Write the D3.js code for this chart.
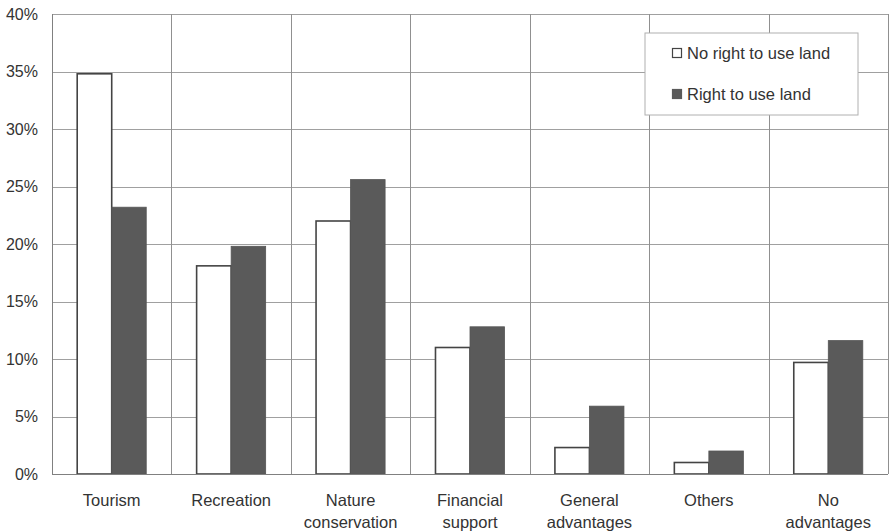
<!DOCTYPE html>
<html>
<head>
<meta charset="utf-8">
<script src="https://cdn.jsdelivr.net/npm/d3@7"></script>
<style>
  html, body { margin: 0; padding: 0; background: #fff; }
  svg { display: block; font-family: "Liberation Sans", Arial, sans-serif; }
</style>
</head>
<body>
<svg id="chart" width="892" height="532"></svg>
<script>
// Perceived advantages, by land-use right
const categories = [
  ["Tourism"],
  ["Recreation"],
  ["Nature", "conservation"],
  ["Financial", "support"],
  ["General", "advantages"],
  ["Others"],
  ["No", "advantages"]
];
const seriesNames = ["No right to use land", "Right to use land"];
const noRight  = [34.8, 18.1, 22.0, 11.0, 2.3, 1.0, 9.7];
const withRight = [23.2, 19.8, 25.6, 12.8, 5.9, 2.0, 11.6];
const yTicks = [0, 5, 10, 15, 20, 25, 30, 35, 40];

const svg = d3.select("#chart");
const margin = { top: 14, right: 4, bottom: 58, left: 52 };
const W = 892, H = 532;
const innerW = W - margin.left - margin.right;
const innerH = H - margin.top - margin.bottom;

const g = svg.append("g").attr("transform", `translate(${margin.left},${margin.top})`);

const x0 = d3.scaleBand()
  .domain(d3.range(categories.length))
  .range([0, innerW])
  .paddingInner(0)
  .paddingOuter(0);

const x1 = d3.scaleBand()
  .domain([0, 1])
  .range([0, x0.bandwidth()])
  .paddingInner(0)
  .paddingOuter(0.73);

const y = d3.scaleLinear().domain([0, 40]).range([innerH, 0]);

const gridColor = "#a0a0a0";

// horizontal gridlines
g.append("g").selectAll("line")
  .data(yTicks)
  .join("line")
  .attr("x1", 0).attr("x2", innerW)
  .attr("y1", d => Math.round(y(d)) + 0.5)
  .attr("y2", d => Math.round(y(d)) + 0.5)
  .attr("stroke", gridColor)
  .attr("stroke-width", 1);

// vertical gridlines at category boundaries
g.append("g").selectAll("line")
  .data(d3.range(categories.length + 1))
  .join("line")
  .attr("x1", i => Math.round(i === categories.length ? innerW : x0(i)) + 0.5)
  .attr("x2", i => Math.round(i === categories.length ? innerW : x0(i)) + 0.5)
  .attr("y1", 0).attr("y2", innerH)
  .attr("stroke", "#909090")
  .attr("stroke-width", 1);

// left axis line
g.append("line")
  .attr("x1", 0.5).attr("x2", 0.5)
  .attr("y1", 0).attr("y2", innerH)
  .attr("stroke", "#808080");

// y axis labels
const yAxis = d3.axisLeft(y).tickValues(yTicks).tickFormat(d => d + "%").tickSize(0).tickPadding(14);
const ya = g.append("g").call(yAxis);
ya.select(".domain").remove();
ya.selectAll("text")
  .attr("font-size", 16)
  .attr("fill", "#333")
  .attr("font-family", "'Liberation Sans', Arial, sans-serif");

// bars
const groups = g.append("g").selectAll("g")
  .data(categories.map((c, i) => i))
  .join("g")
  .attr("transform", i => `translate(${x0(i)},0)`);

groups.append("rect")
  .attr("x", x1(0))
  .attr("y", i => y(noRight[i]))
  .attr("width", x1.bandwidth())
  .attr("height", i => y(0) - y(noRight[i]))
  .attr("fill", "#fff")
  .attr("stroke", "#444")
  .attr("stroke-width", 1.6);

groups.append("rect")
  .attr("x", x1(1))
  .attr("y", i => y(withRight[i]))
  .attr("width", x1.bandwidth())
  .attr("height", i => y(0) - y(withRight[i]))
  .attr("fill", "#5a5a5a")
  .attr("stroke", "#555")
  .attr("stroke-width", 0.8);

// bottom axis line
g.append("line")
  .attr("x1", 0).attr("x2", innerW)
  .attr("y1", innerH + 0.5).attr("y2", innerH + 0.5)
  .attr("stroke", "#808080");

// category labels
const xl = g.append("g").selectAll("text")
  .data(categories.map((c, i) => i))
  .join("text")
  .attr("x", i => x0(i) + x0.bandwidth() / 2)
  .attr("y", innerH + 32)
  .attr("text-anchor", "middle")
  .attr("font-size", 16.5)
  .attr("fill", "#333");
xl.selectAll("tspan")
  .data(i => categories[i])
  .join("tspan")
  .attr("x", function () { return d3.select(this.parentNode).attr("x"); })
  .attr("dy", (d, j) => j === 0 ? 0 : 22)
  .text(d => d);

// legend
const legend = svg.append("g").attr("transform", "translate(645,33)");
legend.append("rect")
  .attr("width", 213).attr("height", 82)
  .attr("fill", "#fff")
  .attr("stroke", "#b0b0b0")
  .attr("stroke-width", 1);
const items = legend.selectAll("g.item")
  .data(seriesNames)
  .join("g")
  .attr("class", "item")
  .attr("transform", (d, i) => `translate(27,${15 + i * 41})`);
items.append("rect")
  .attr("x", 0.5).attr("y", 0.5)
  .attr("width", 9).attr("height", 9)
  .attr("fill", (d, i) => i === 0 ? "#fff" : "#5a5a5a")
  .attr("stroke", (d, i) => i === 0 ? "#444" : "#5a5a5a")
  .attr("stroke-width", 1.2);
items.append("text")
  .attr("x", 15)
  .attr("y", 11)
  .attr("font-size", 16.5)
  .attr("fill", "#333")
  .text(d => d);
</script>
</body>
</html>
